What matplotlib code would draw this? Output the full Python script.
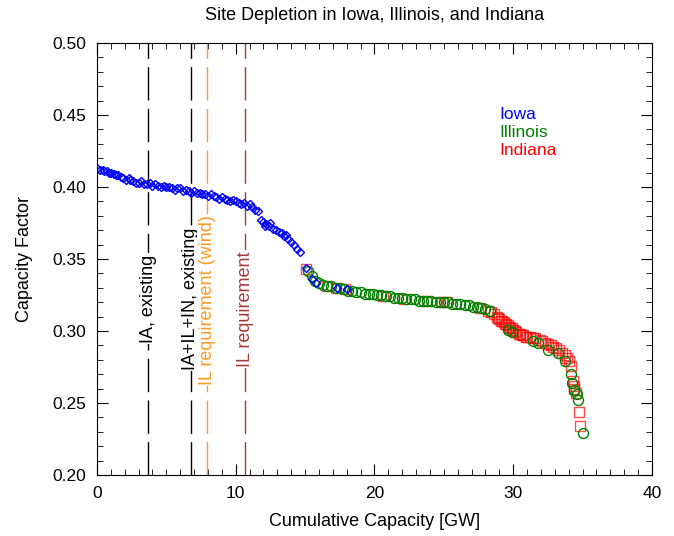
import numpy as np
import matplotlib.pyplot as plt

plt.rcParams['font.family'] = ['Liberation Sans', 'DejaVu Sans']

# Iowa (blue diamonds)
ia_cap = [0.0, 0.2, 0.4, 0.5, 0.7, 0.9, 1.0, 1.2, 1.4, 1.5, 1.7, 1.9, 2.1, 2.3, 2.4,
          2.6, 2.8, 3.0, 3.2, 3.4, 3.6, 3.8, 4.0, 4.2, 4.4, 4.6, 4.8, 5.0, 5.2, 5.4,
          5.6, 5.8, 6.0, 6.2, 6.4, 6.6, 6.8, 7.0, 7.2, 7.4, 7.6, 7.8, 8.0, 8.2, 8.4,
          8.6, 8.8, 9.0, 9.2, 9.4, 9.6, 9.8, 10.0, 10.2, 10.4, 10.6, 10.8, 11.0, 11.2,
          11.4, 11.6, 11.8, 12.0, 12.1, 12.2, 12.4, 12.5, 12.7, 12.9, 13.1, 13.3, 13.5,
          13.6, 13.8, 14.0, 14.2, 14.4, 14.6, 15.1, 15.5, 15.8, 17.3, 18.0]
ia_cf = [0.413, 0.412, 0.412, 0.411, 0.411, 0.410, 0.410, 0.409, 0.408, 0.408, 0.407,
         0.406, 0.405, 0.406, 0.405, 0.404, 0.403, 0.403, 0.404, 0.402, 0.402, 0.403,
         0.401, 0.402, 0.401, 0.400, 0.401, 0.400, 0.400, 0.399, 0.398, 0.399, 0.399,
         0.397, 0.398, 0.397, 0.396, 0.397, 0.396, 0.396, 0.395, 0.395, 0.394, 0.395,
         0.394, 0.393, 0.392, 0.393, 0.392, 0.391, 0.390, 0.391, 0.390, 0.389, 0.388,
         0.389, 0.387, 0.388, 0.386, 0.384, 0.383, 0.377, 0.376, 0.373, 0.374, 0.373,
         0.375, 0.371, 0.370, 0.369, 0.368, 0.366, 0.367, 0.364, 0.362, 0.360, 0.357,
         0.355, 0.344, 0.336, 0.333, 0.330, 0.329]

# Illinois (green circles)
il_cap = [15.2, 15.5, 15.7, 16.0, 16.3, 16.6, 16.9, 17.2, 17.5, 17.8, 18.1, 18.4, 18.7,
          19.0, 19.3, 19.6, 19.9, 20.2, 20.5, 20.8, 21.1, 21.4, 21.7, 22.0, 22.3, 22.6,
          22.9, 23.2, 23.5, 23.8, 24.1, 24.4, 24.7, 25.0, 25.3, 25.6, 25.9, 26.2, 26.5,
          26.8, 27.1, 27.4, 27.7, 28.0, 28.3, 29.6, 29.9, 31.4, 31.8, 32.5, 33.2, 33.7,
          34.2, 34.25, 34.4, 34.6, 34.7, 35.0]
il_cf = [0.342, 0.338, 0.335, 0.333, 0.332, 0.331, 0.331, 0.330, 0.330, 0.329, 0.328,
         0.328, 0.327, 0.327, 0.326, 0.326, 0.326, 0.325, 0.325, 0.324, 0.324, 0.323,
         0.323, 0.323, 0.322, 0.322, 0.322, 0.321, 0.321, 0.321, 0.321, 0.320, 0.320,
         0.320, 0.320, 0.319, 0.319, 0.319, 0.318, 0.318, 0.317, 0.317, 0.316, 0.315,
         0.314, 0.301, 0.299, 0.293, 0.292, 0.287, 0.285, 0.279, 0.270, 0.264, 0.259,
         0.256, 0.252, 0.229]

# Indiana (red squares)
in_cap = [15.1, 16.6, 17.2, 17.9, 20.6, 22.1, 23.8, 24.9, 25.2, 27.6, 28.2, 28.4, 28.6,
          28.8, 28.9, 29.0, 29.1, 29.2, 29.3, 29.4, 29.5, 29.6, 29.7, 29.8, 29.9, 30.0,
          30.1, 30.2, 30.4, 30.5, 30.6, 30.7, 30.9, 31.0, 31.2, 31.4, 31.6, 31.9, 32.1,
          32.3, 32.5, 32.7, 32.9, 33.1, 33.3, 33.5, 33.7, 33.9, 34.0, 34.2, 34.3, 34.35,
          34.4, 34.5, 34.74, 34.8]
in_cf = [0.343, 0.331, 0.330, 0.329, 0.324, 0.322, 0.321, 0.320, 0.320, 0.316, 0.314,
         0.313, 0.312, 0.310, 0.309, 0.308, 0.307, 0.307, 0.306, 0.305, 0.305, 0.304,
         0.303, 0.302, 0.302, 0.301, 0.300, 0.299, 0.298, 0.298, 0.297, 0.297, 0.296,
         0.296, 0.296, 0.295, 0.295, 0.294, 0.293, 0.292, 0.291, 0.290, 0.289, 0.288,
         0.287, 0.285, 0.283, 0.281, 0.279, 0.276, 0.265, 0.262, 0.260, 0.257, 0.244,
         0.234]

# reference lines
ref_x = [3.68, 6.77, 7.93, 10.7]
ref_labels = ['IA, existing', 'IA+IL+IN, existing', 'IL requirement (wind)', 'IL requirement']
ref_colors = ['black', 'black', '#ff9922', '#a33a3a']
ref_label_y = [0.2917, 0.2729, 0.2625, 0.275]

fig = plt.figure(figsize=(6.74, 5.36), dpi=100)
ax = fig.add_axes([0.1439, 0.1138, 0.8234, 0.806])

for x, lab, c, ly in zip(ref_x, ref_labels, ref_colors, ref_label_y):
    ax.plot([x, x], [0.2, 0.5], color=c, lw=1, dashes=(24, 6))
    ax.text(x, ly, lab, rotation=90, ha='center', va='bottom', color=c, fontsize=13,
            bbox=dict(fc='white', ec='none', pad=1))

ax.plot(in_cap, in_cf, 's', ms=6.5, mfc='none', mec='red', mew=1, alpha=0.7)
ax.plot(il_cap, il_cf, 'o', ms=7.2, mfc='none', mec='green', mew=1)
ax.plot(ia_cap, ia_cf, 'D', ms=4, mfc='none', mec='blue', mew=1)

ax.text(29.0, 0.450, 'Iowa', color='blue', fontsize=12.5, va='center')
ax.text(29.0, 0.4375, 'Illinois', color='green', fontsize=12.5, va='center')
ax.text(29.0, 0.425, 'Indiana', color='red', fontsize=12.5, va='center')

ax.set_xlim(0, 40)
ax.set_ylim(0.2, 0.5)
ax.set_xticks([0, 10, 20, 30, 40])
ax.set_xticks(np.arange(0, 41, 1), minor=True)
ax.set_yticks([0.20, 0.25, 0.30, 0.35, 0.40, 0.45, 0.50])
ax.set_yticks(np.arange(0.20, 0.501, 0.01), minor=True)
ax.set_yticklabels(['0.20', '0.25', '0.30', '0.35', '0.40', '0.45', '0.50'])
ax.tick_params(which='both', direction='in', top=True, right=True, labelsize=12.5)
ax.tick_params(which='major', length=8, pad=8)
ax.tick_params(which='minor', length=4)

fig.text(374.5 / 674, 1 - 16 / 536, 'Site Depletion in Iowa, Illinois, and Indiana',
         ha='center', va='center', fontsize=13)
fig.text(374.5 / 674, 1 - 522 / 536, 'Cumulative Capacity [GW]', ha='center', va='center',
         fontsize=13)
fig.text(25 / 674, 1 - 259 / 536, 'Capacity Factor', ha='center', va='center',
         rotation=90, fontsize=13)

fig.savefig('out.png', dpi=100)
